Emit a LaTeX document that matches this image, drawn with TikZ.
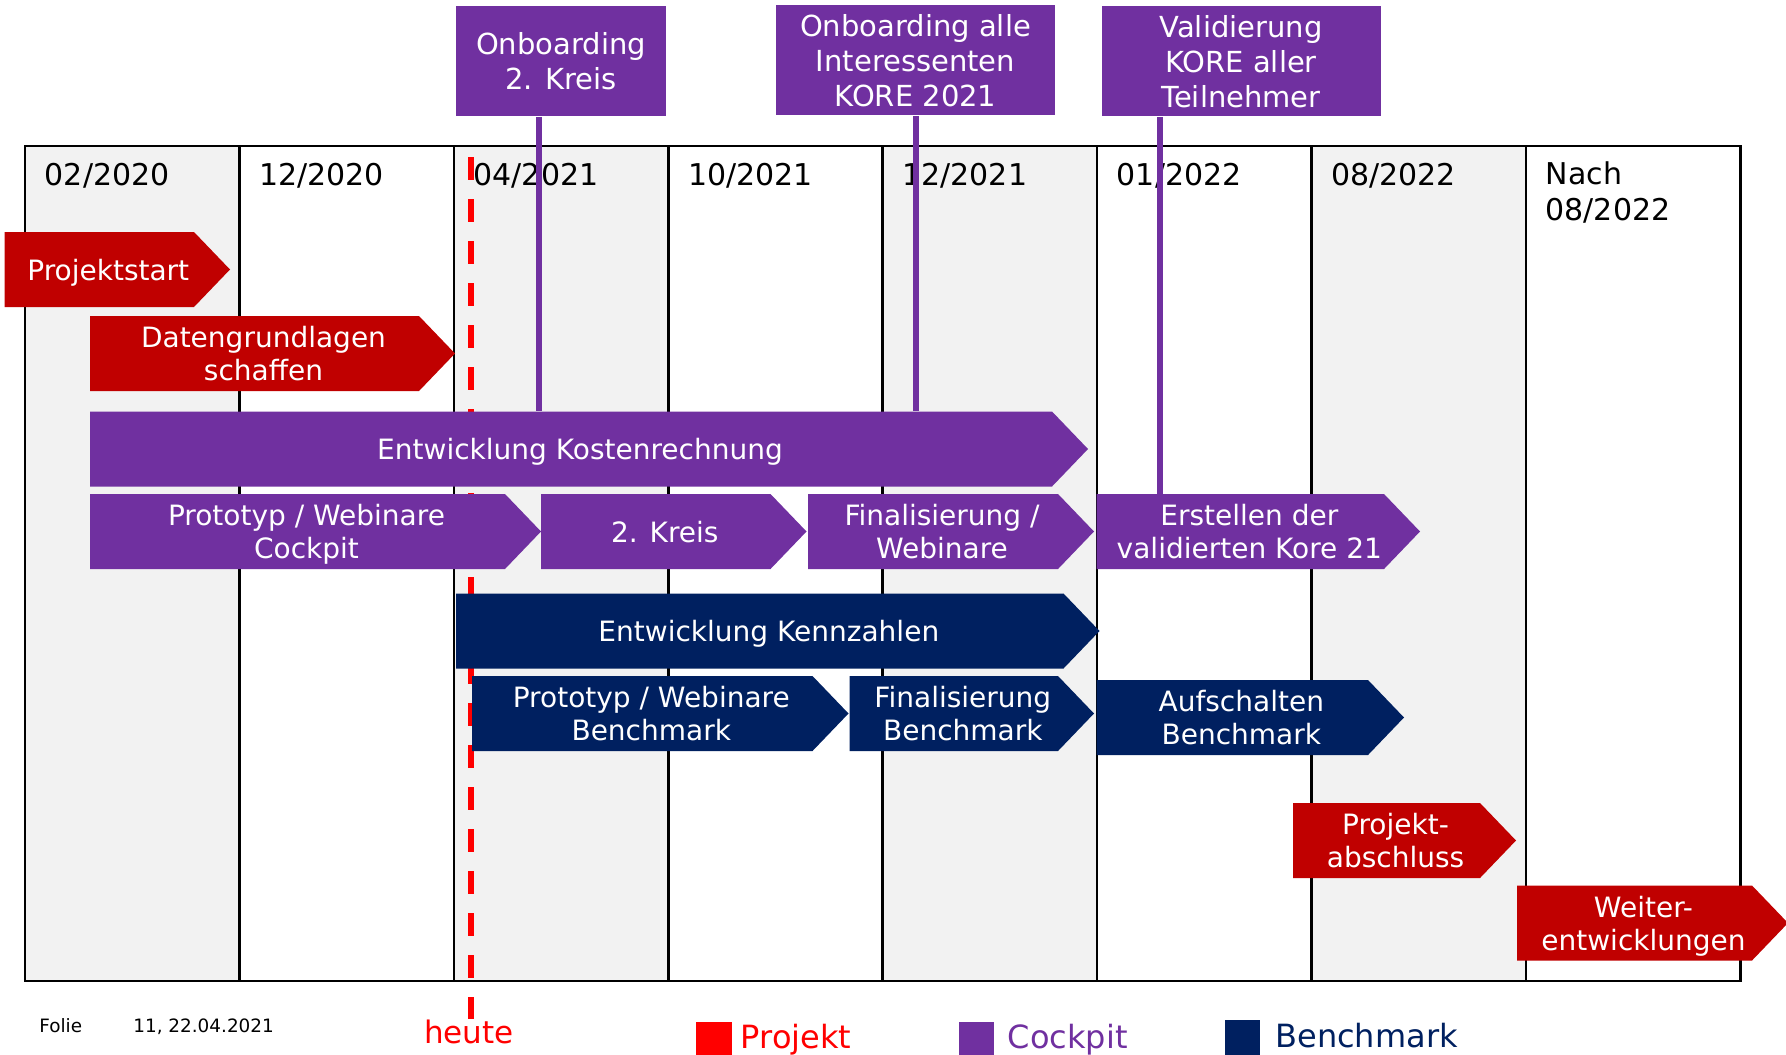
\documentclass[tikz,border=0pt]{standalone}
\usepackage{fontspec}
\setmainfont{DejaVu Sans}
\definecolor{korered}{HTML}{C00000}
\definecolor{korepurple}{HTML}{7030A0}
\definecolor{korenavy}{HTML}{002060}
\definecolor{koregray}{HTML}{F2F2F2}
\definecolor{heutered}{HTML}{FF0000}
\begin{document}
\begin{tikzpicture}[x=0.5pt,y=-0.5pt,
  projekt/.style={fill=korered},
  cockpit/.style={fill=korepurple},
  benchmark/.style={fill=korenavy},
  bartext/.style={text=white,font=\fontsize{14}{16.5}\selectfont,align=center,inner sep=0pt,text depth=0pt,minimum height=37.5pt},
  milestone/.style={fill=korepurple,text=white,font=\fontsize{14.5}{17.5}\selectfont,align=center,inner sep=0pt,minimum height=55pt},
  msline/.style={korepurple,line width=3pt},
  tabline/.style={line width=1.3pt},
  colhead/.style={anchor=base west,inner sep=0pt,align=left,font=\fontsize{15}{17.5}\selectfont},
  heuteline/.style={heutered,line width=3pt,dash pattern=on 11.5pt off 9.5pt},
  legend/.style={anchor=base west,inner sep=0pt,font=\fontsize{16}{19}\selectfont}]
\useasboundingbox (0,0) rectangle (1786,1054);
%%% Columns of the time line
\fill[koregray] (25,146) rectangle (239.4,981);
\fill[koregray] (453.8,146) rectangle (668.2,981);
\fill[koregray] (882.6,146) rectangle (1097,981);
\fill[koregray] (1311.4,146) rectangle (1525.8,981);
\draw[tabline] (25,146) rectangle (1740.2,981);
\draw[tabline] (239.4,146) -- (239.4,981);
\draw[tabline] (453.8,146) -- (453.8,981);
\draw[tabline] (668.2,146) -- (668.2,981);
\draw[tabline] (882.6,146) -- (882.6,981);
\draw[tabline] (1097,146) -- (1097,981);
\draw[tabline] (1311.4,146) -- (1311.4,981);
\draw[tabline] (1525.8,146) -- (1525.8,981);
%Dates
\node[colhead] (c1) at (44.5,185) {02/2020};
\node[colhead] (c2) at (258.9,185) {12/2020};
\node[colhead] (c3) at (473.3,185) {04/2021};
\node[colhead] (c4) at (687.7,185) {10/2021};
\node[colhead] (c5) at (902.1,185) {12/2021};
\node[colhead] (c6) at (1116.5,185) {01/2022};
\node[colhead] (c7) at (1330.9,185) {08/2022};
\node[colhead] (c8) at (1545.3,220) {Nach\\08/2022};
%Today
\coordinate (heutetop) at (471,157);
\node[legend,anchor=base,text=heutered,font=\fontsize{15.5}{18}\selectfont] (heute) at (469,1043) {heute};
\draw[heuteline] (heutetop) -- (heutetop |- heute.north);
%Projekt
\fill[projekt] (4.5,232) -- (194,232) -- (230,269.5) -- (194,307) -- (4.5,307) -- cycle;
\node[bartext] (start) at (108.3,269.5) {Projektstart};
\fill[projekt] (90,316) -- (419,316) -- (455,353.5) -- (419,391) -- (90,391) -- cycle;
\node[bartext] (daten) at (263.5,353.5) {Datengrundlagen\\schaffen};
%Cockpit
\fill[cockpit] (90,411.5) -- (1052,411.5) -- (1088,449) -- (1052,486.5) -- (90,486.5) -- cycle;
\node[bartext] (kost) at (580,449) {Entwicklung Kostenrechnung};
\fill[cockpit] (90,494) -- (505,494) -- (541,531.5) -- (505,569) -- (90,569) -- cycle;
\node[bartext] (protoc) at (306.5,531.5) {Prototyp / Webinare\\Cockpit};
\fill[cockpit] (541,494) -- (770.5,494) -- (806.5,531.5) -- (770.5,569) -- (541,569) -- cycle;
\node[bartext] (kreis) at (664.8,531.5) {2. Kreis};
\fill[cockpit] (808,494) -- (1058,494) -- (1094,531.5) -- (1058,569) -- (808,569) -- cycle;
\node[bartext] (finalc) at (942,531.5) {Finalisierung /\\Webinare};
\fill[cockpit] (1096.5,494) -- (1384,494) -- (1420,531.5) -- (1384,569) -- (1096.5,569) -- cycle;
\node[bartext] (erst) at (1249.3,531.5) {Erstellen der\\validierten Kore 21};
%Benchmark
\fill[benchmark] (456,593.5) -- (1063.5,593.5) -- (1099.5,631) -- (1063.5,668.5) -- (456,668.5) -- cycle;
\node[bartext] (kenn) at (768.8,631) {Entwicklung Kennzahlen};
\fill[benchmark] (472,676) -- (812.5,676) -- (848.5,713.5) -- (812.5,751) -- (472,751) -- cycle;
\node[bartext] (protob) at (651.3,713.5) {Prototyp / Webinare\\Benchmark};
\fill[benchmark] (849.5,676) -- (1058,676) -- (1094,713.5) -- (1058,751) -- (849.5,751) -- cycle;
\node[bartext] (finalb) at (962.8,713.5) {Finalisierung\\Benchmark};
\fill[benchmark] (1096.5,680) -- (1368,680) -- (1404,717.5) -- (1368,755) -- (1096.5,755) -- cycle;
\node[bartext] (aufsch) at (1241.3,717.5) {Aufschalten\\Benchmark};
%Projekt end
\fill[projekt] (1293,803) -- (1480,803) -- (1516,840.5) -- (1480,878) -- (1293,878) -- cycle;
\node[bartext] (abschl) at (1395.5,840.5) {Projekt-\\abschluss};
\fill[projekt] (1517,885.5) -- (1752,885.5) -- (1788,923) -- (1752,960.5) -- (1517,960.5) -- cycle;
\node[bartext] (weiter) at (1643.5,923) {Weiter-\\entwicklungen};
%Milestones
\node[milestone,minimum width=105pt] (ob1) at (561,61.5) {Onboarding\\2. Kreis};
\node[milestone,minimum width=139.5pt] (ob2) at (915.5,60.5) {Onboarding alle\\Interessenten\\KORE 2021};
\node[milestone,minimum width=139.5pt] (val) at (1241,61.5) {Validierung\\KORE aller\\Teilnehmer};
\coordinate (l1) at (539,0);
\coordinate (l2) at (915.6,0);
\coordinate (l3) at (1159.6,0);
\draw[msline] (ob1.south -| l1)  --  (kost.north -| l1) ;
\draw[msline] (ob2.south -| l2)  --  (kost.north -| l2) ;
\draw[msline] (val.south -| l3)  --  (erst.north -| l3) ;
%Legend
\fill[heutered] (696.3,1021.5) rectangle (732,1058);
\node[legend,text=heutered] (lproj) at (740.5,1048) {Projekt};
\fill[korepurple] (958.6,1021.5) rectangle (993.7,1058);
\node[legend,text=korepurple] (lcock) at (1007.4,1048) {Cockpit};
\fill[korenavy] (1225,1020) rectangle (1260,1058);
\node[legend,text=korenavy] (lbench) at (1275,1047) {Benchmark};
%Footer
\node[anchor=base west,inner sep=0pt,font=\fontsize{9.2}{11}\selectfont] (folie) at (39,1032) {Folie};
\node[anchor=base west,inner sep=0pt,font=\fontsize{9.2}{11}\selectfont] (datum) at (133,1032) {11, 22.04.2021};
\end{tikzpicture}
\end{document}
